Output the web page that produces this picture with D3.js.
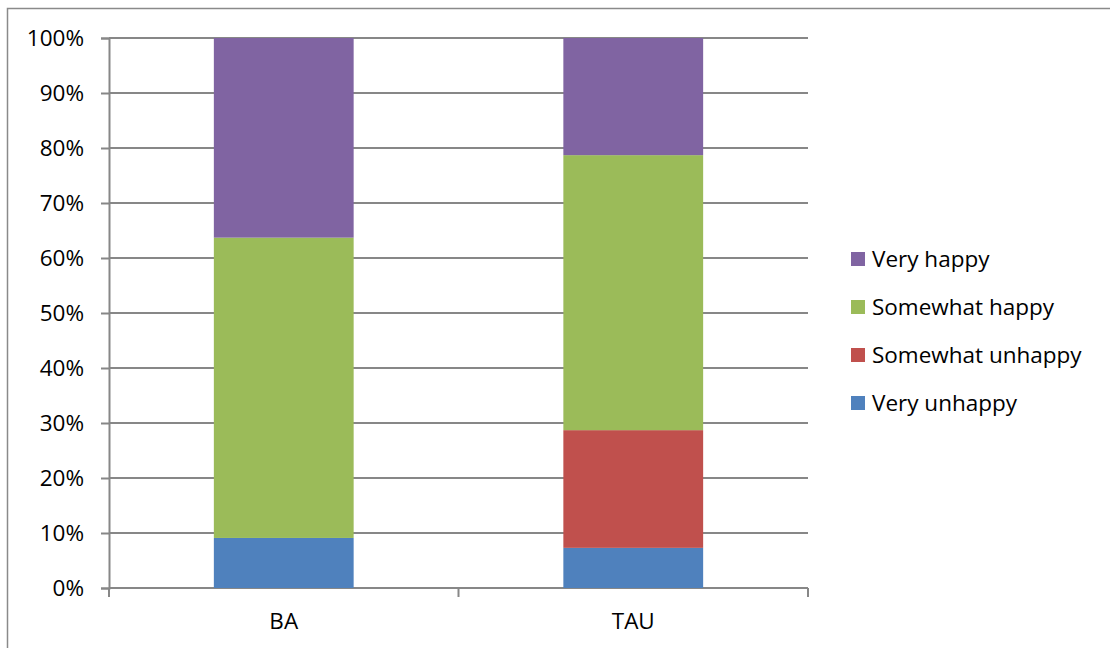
<!DOCTYPE html>
<html>
<head>
<meta charset="utf-8">
<script src="https://cdn.jsdelivr.net/npm/d3@7"></script>
<style>
  body { margin: 0; background: #fff; }
  svg text { font-family: "Open Sans", sans-serif; fill: #000; }
</style>
</head>
<body>
<div id="chart"></div>
<script>
  // chart data (percent of each group)
  var categories = ['BA', 'TAU'];
  var seriesNames = ['Very unhappy', 'Somewhat unhappy', 'Somewhat happy', 'Very happy'];
  var veryUnhappy = [9.1, 7.3];
  var somewhatUnhappy = [0, 21.4];
  var somewhatHappy = [54.6, 50.0];
  var veryHappy = [36.3, 21.3];
  var yTicks = [0, 10, 20, 30, 40, 50, 60, 70, 80, 90, 100];
  var colors = ['#4F81BD', '#C0504D', '#9BBB59', '#8064A2'];

  const WIDTH = 1110;
  const HEIGHT = 648;
  const MARGIN = { TOP: 38, RIGHT: 302, BOTTOM: 60, LEFT: 109 };
  var width = WIDTH - MARGIN.LEFT - MARGIN.RIGHT;
  var height = HEIGHT - MARGIN.TOP - MARGIN.BOTTOM;
  var GRID = '#878787';
  var FONT = '22.5px';

  var seriesValues = [veryUnhappy, somewhatUnhappy, somewhatHappy, veryHappy];
  var rows = categories.map(function(c, i) {
    var r = { category: c };
    seriesNames.forEach(function(s, j) { r[s] = seriesValues[j][i]; });
    return r;
  });
  var stacked = d3.stack().keys(seriesNames)(rows);

  var x = d3.scaleBand().domain(categories).range([0, width]).paddingInner(0.6).paddingOuter(0.3);
  var xOuter = d3.scaleBand().domain(categories).range([0, width]);
  var y = d3.scaleLinear().domain([0, 100]).range([height, 0]);

  var root = d3.select('#chart').append('svg')
    .attr('width', WIDTH)
    .attr('height', HEIGHT);

  // outer frame, runs off the right and bottom edge
  root.append('rect')
    .attr('x', 7.5).attr('y', 8.5)
    .attr('width', WIDTH + 10).attr('height', HEIGHT + 10)
    .attr('fill', 'none')
    .attr('stroke', '#8a8a8a')
    .attr('stroke-width', 1.5);

  var svg = root.append('g')
    .attr('transform', 'translate(' + MARGIN.LEFT + ',' + MARGIN.TOP + ')');

  // gridlines + y axis
  var yAxis = d3.axisLeft(y)
    .tickValues(yTicks)
    .tickSize(8)
    .tickPadding(17)
    .tickFormat(function(d) { return d + '%'; });

  svg.append('g')
    .attr('class', 'grid')
    .selectAll('line')
    .data(yTicks)
    .enter().append('line')
    .attr('x1', 0).attr('x2', width)
    .attr('y1', function(d) { return y(d); })
    .attr('y2', function(d) { return y(d); })
    .attr('stroke', GRID)
    .attr('stroke-width', 2);

  var yG = svg.append('g').attr('class', 'y axis').call(yAxis);
  yG.select('.domain').attr('stroke', GRID).attr('stroke-width', 2);
  yG.selectAll('.tick line').attr('stroke', GRID).attr('stroke-width', 2);
  yG.selectAll('.tick text')
    .style('font-size', FONT)
    .attr('dy', '0.35em');

  // x axis: ticks on the band edges
  var xG = svg.append('g')
    .attr('class', 'x axis')
    .attr('transform', 'translate(0,' + height + ')');
  xG.append('line')
    .attr('x1', 0).attr('x2', width)
    .attr('stroke', GRID).attr('stroke-width', 2);
  var edges = categories.map(function(c) { return xOuter(c); }).concat([width]);
  xG.selectAll('.edge')
    .data(edges)
    .enter().append('line')
    .attr('x1', function(d) { return d; })
    .attr('x2', function(d) { return d; })
    .attr('y1', 0).attr('y2', 9)
    .attr('stroke', GRID).attr('stroke-width', 2);
  xG.selectAll('.lbl')
    .data(categories)
    .enter().append('text')
    .attr('x', function(d) { return xOuter(d) + xOuter.bandwidth() / 2; })
    .attr('y', 41)
    .attr('text-anchor', 'middle')
    .style('font-size', FONT)
    .text(function(d) { return d; });

  // stacked bars
  svg.selectAll('.layer')
    .data(stacked)
    .enter().append('g')
    .attr('class', 'layer')
    .style('fill', function(d, i) { return colors[i]; })
    .selectAll('rect')
    .data(function(d) { return d; })
    .enter().append('rect')
    .filter(function(d) { return d[1] - d[0] > 0; })
    .attr('x', function(d) { return x(d.data.category); })
    .attr('width', x.bandwidth())
    .attr('y', function(d) { return y(d[1]); })
    .attr('height', function(d) { return y(d[0]) - y(d[1]); });

  // legend, top to bottom in reverse series order
  var legendItems = seriesNames.map(function(s, i) { return { name: s, color: colors[i] }; }).reverse();
  var legend = root.append('g')
    .attr('transform', 'translate(851,252)');
  var item = legend.selectAll('.item')
    .data(legendItems)
    .enter().append('g')
    .attr('transform', function(d, i) { return 'translate(0,' + (i * 48) + ')'; });
  item.append('rect')
    .attr('width', 14).attr('height', 14)
    .attr('fill', function(d) { return d.color; });
  item.append('text')
    .attr('x', 21)
    .attr('y', 7)
    .attr('dy', '0.35em')
    .style('font-size', FONT)
    .text(function(d) { return d.name; });
</script>
</body>
</html>
